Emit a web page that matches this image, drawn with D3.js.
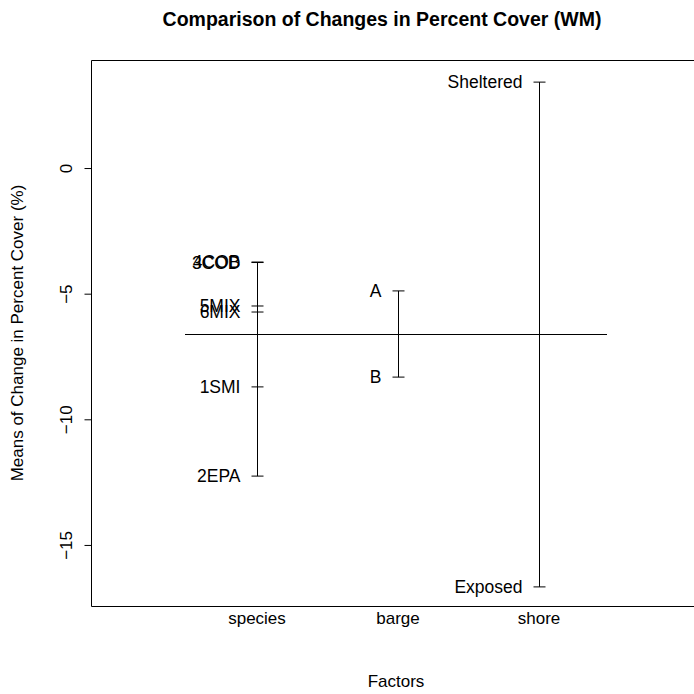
<!DOCTYPE html>
<html>
<head>
<meta charset="utf-8">
<script src="https://cdn.jsdelivr.net/npm/d3@7"></script>
<style>
  body { margin: 0; background: #fff; }
  text { font-family: "Liberation Sans", Arial, Helvetica, sans-serif; fill: #000; }
</style>
</head>
<body>
<div id="chart"></div>
<script>
// factor names along x
const factors = ["species", "barge", "shore"];

// level labels and their mean change for each factor
const speciesLevels = ["3COD", "4COB", "5MIX", "6MIX", "1SMI", "2EPA"];
const speciesMeans = [-3.76, -3.74, -5.49, -5.73, -8.71, -12.26];
const bargeLevels = ["A", "B"];
const bargeMeans = [-4.89, -8.32];
const shoreLevels = ["Sheltered", "Exposed"];
const shoreMeans = [3.42, -16.67];

const grandMean = -6.61;
const yTicks = [0, -5, -10, -15];

const width = 694, height = 694;
const margin = {top: 60, right: 0, bottom: 88, left: 91};

const svg = d3.select("#chart").append("svg")
    .attr("width", width)
    .attr("height", height);

const y = d3.scaleLinear()
    .domain([-17.43, 4.30])
    .range([height - margin.bottom, margin.top]);

const x = d3.scalePoint()
    .domain(factors)
    .range([257, 539]);

// box (right side falls outside the picture)
svg.append("path")
    .attr("d", `M${width},${margin.top + 0.5}H${margin.left + 0.5}V${height - margin.bottom + 0.5}H${width}`)
    .attr("fill", "none")
    .attr("stroke", "#000")
    .attr("stroke-width", 1);

// y axis
const yAxis = svg.append("g")
    .attr("transform", `translate(${margin.left + 0.5},0)`)
    .call(d3.axisLeft(y).tickValues(yTicks).tickSize(7).tickFormat(d => d < 0 ? "\u2212" + Math.abs(d) : d));
yAxis.select(".domain").remove();
yAxis.selectAll("line").attr("stroke", "#000");
yAxis.selectAll("text")
    .style("font-size", "17px")
    .attr("text-anchor", "middle")
    .attr("x", null).attr("dy", null)
    .attr("transform", "translate(-20,0) rotate(-90)")
    .attr("y", 0);

// grand mean line
svg.append("line")
    .attr("x1", x("species") - 72).attr("x2", x("shore") + 68)
    .attr("y1", Math.round(y(grandMean)) + 0.5).attr("y2", Math.round(y(grandMean)) + 0.5)
    .attr("stroke", "#000");

const groups = [
    {f: "species", levels: speciesLevels, means: speciesMeans},
    {f: "barge", levels: bargeLevels, means: bargeMeans},
    {f: "shore", levels: shoreLevels, means: shoreMeans}
];

groups.forEach(g => {
    const cx = Math.round(x(g.f)) + 0.5;
    svg.append("line")
        .attr("x1", cx).attr("x2", cx)
        .attr("y1", y(d3.max(g.means))).attr("y2", y(d3.min(g.means)))
        .attr("stroke", "#000");
    g.means.forEach((m, i) => {
        svg.append("line")
            .attr("x1", cx - 6).attr("x2", cx + 6)
            .attr("y1", y(m)).attr("y2", y(m))
            .attr("stroke", "#000");
        svg.append("text")
            .attr("x", cx - 17)
            .attr("y", y(m))
            .attr("dy", "0.35em")
            .attr("text-anchor", "end")
            .style("font-size", "17.5px")
            .text(g.levels[i]);
    });
    svg.append("text")
        .attr("x", x(g.f))
        .attr("y", 624)
        .attr("text-anchor", "middle")
        .style("font-size", "17px")
        .text(g.f);
});

// titles
svg.append("text")
    .attr("x", 382).attr("y", 26)
    .attr("text-anchor", "middle")
    .style("font-size", "19.5px")
    .style("font-weight", "bold")
    .text("Comparison of Changes in Percent Cover (WM)");

svg.append("text")
    .attr("x", 396).attr("y", 687)
    .attr("text-anchor", "middle")
    .style("font-size", "17px")
    .text("Factors");

svg.append("text")
    .attr("transform", `translate(23,${(margin.top + height - margin.bottom) / 2}) rotate(-90)`)
    .attr("text-anchor", "middle")
    .style("font-size", "17px")
    .text("Means of Change in Percent Cover (%)");
</script>
</body>
</html>
